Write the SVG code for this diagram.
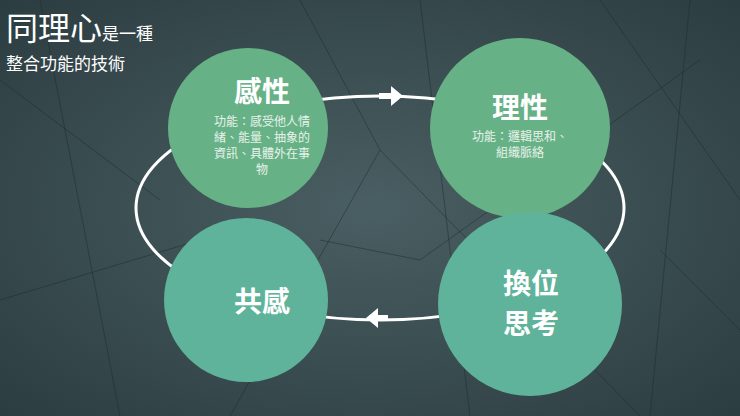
<svg xmlns="http://www.w3.org/2000/svg" width="740" height="416" viewBox="0 0 740 416">
<defs>
<radialGradient id="bg" cx="0.5" cy="0.5" r="0.7"><stop offset="0" stop-color="#4a5f63"/><stop offset="1" stop-color="#2c3d41"/></radialGradient>
<style>
.t{font-family:"Noto Sans CJK TC","Noto Sans CJK SC",sans-serif;fill:#fff;text-anchor:middle}
.big{font-size:28px;font-weight:bold}
.sm{font-size:12px;fill:#e8f2ea}
.net line{stroke:#1f2b2e;stroke-width:0.8;opacity:.6}
</style>
</defs>
<rect width="740" height="416" fill="url(#bg)"/>
<g class="net">
<line x1="0" y1="80" x2="160" y2="200"/><line x1="40" y1="0" x2="120" y2="416"/><line x1="380" y1="150" x2="230" y2="416"/><line x1="380" y1="150" x2="640" y2="416"/><line x1="380" y1="150" x2="300" y2="0"/><line x1="420" y1="260" x2="700" y2="60"/><line x1="600" y1="0" x2="740" y2="200"/><line x1="660" y1="250" x2="740" y2="330"/><line x1="0" y1="300" x2="200" y2="240"/><line x1="320" y1="240" x2="420" y2="260"/><line x1="420" y1="0" x2="470" y2="416"/><line x1="690" y1="0" x2="650" y2="416"/>
</g>
<g id="cycle"><ellipse cx="380" cy="208" rx="244" ry="112" fill="none" stroke="#fff" stroke-width="3"/>
<path d="M379 93 l12 0 l0 -7 l12 10 l-12 10 l0 -7 l-12 0z" fill="#fff"/>
<path d="M388 315 l-10 0 l0 -7 l-12 10 l12 10 l0 -7 l10 0z" fill="#fff"/></g>
<g id="n1"><circle cx="248" cy="128" r="80" fill="#67b187"/>
<text class="t big" x="262" y="102">感性</text>
<text class="t sm" x="262" y="126">功能：感受他人情</text><text class="t sm" x="262" y="142">緒、能量、抽象的</text><text class="t sm" x="262" y="158">資訊、具體外在事</text><text class="t sm" x="262" y="174">物</text></g>
<g id="n2"><circle cx="520" cy="128" r="90" fill="#67b187"/>
<text class="t big" x="520" y="118">理性</text>
<text class="t sm" x="520" y="141">功能：邏輯思和、</text><text class="t sm" x="520" y="157">組織脈絡</text></g>
<g id="n3"><circle cx="246" cy="300" r="82" fill="#5fb39a"/>
<text class="t big" x="262" y="312">共感</text></g>
<g id="n4"><circle cx="530" cy="304" r="92" fill="#5fb39a"/>
<text class="t big" x="531" y="294">換位</text><text class="t big" x="531" y="334">思考</text></g>
<g id="title"><text x="6" y="40" font-family="Noto Sans CJK TC,sans-serif" font-size="32" fill="#fff">同理心<tspan font-size="17">是一種</tspan></text>
<text x="6" y="70" font-family="Noto Sans CJK TC,sans-serif" font-size="17" fill="#fff">整合功能的技術</text></g>
</svg>
